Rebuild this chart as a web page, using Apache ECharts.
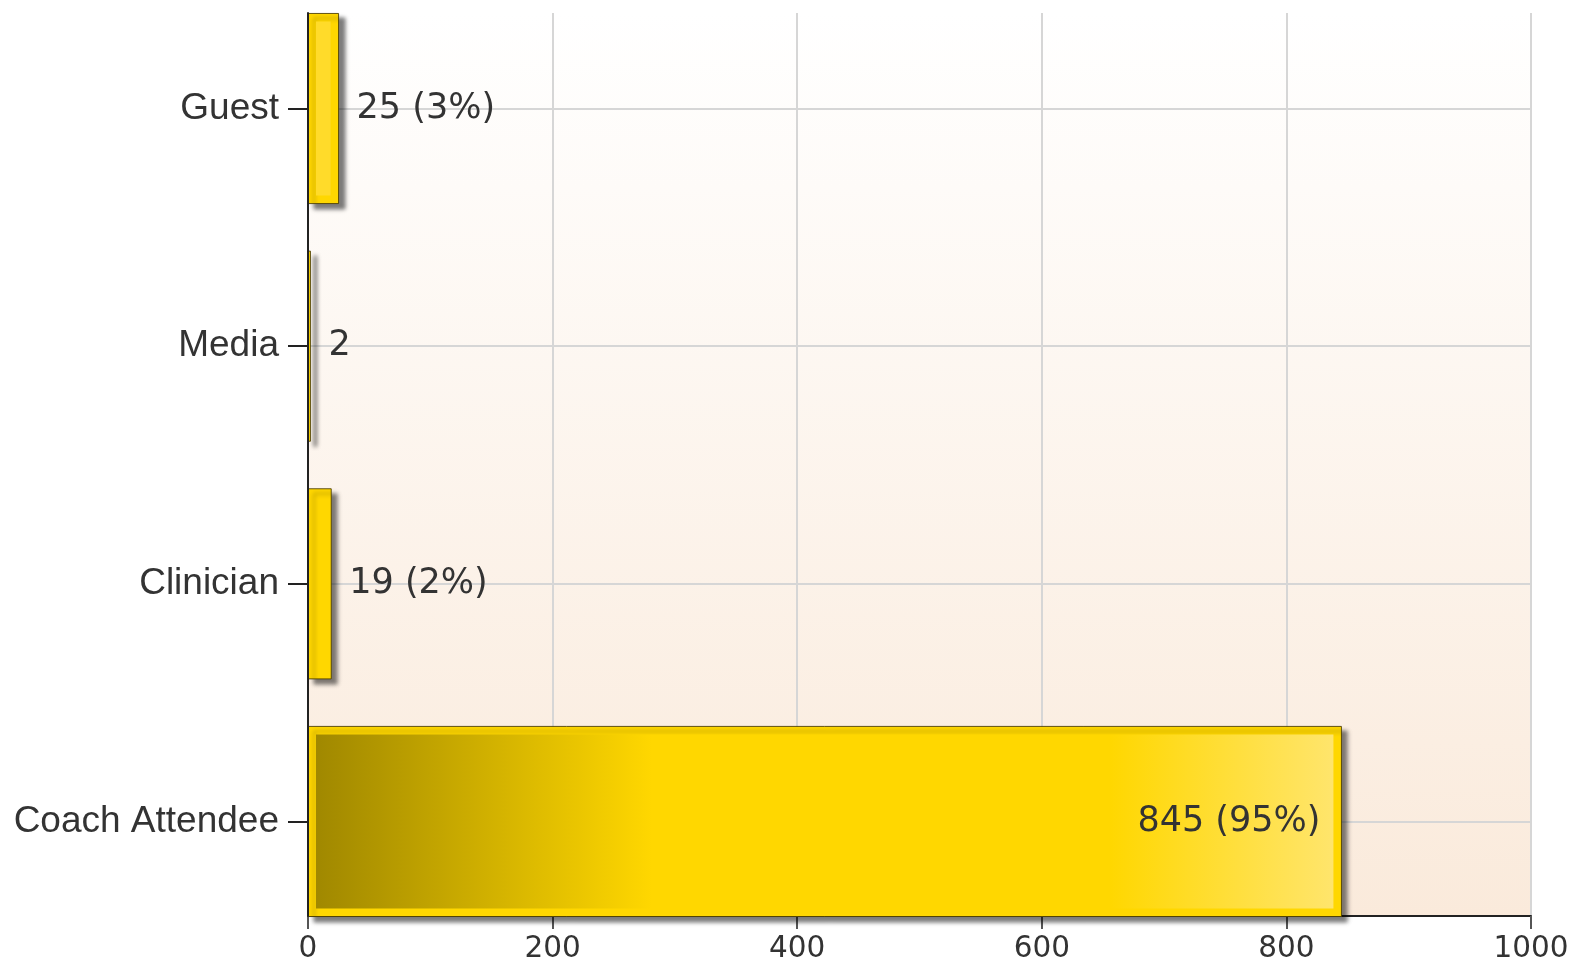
<!DOCTYPE html>
<html><head><meta charset="utf-8">
<script src="https://cdn.jsdelivr.net/npm/echarts@6/dist/echarts.min.js"></script>
<style>html,body{margin:0;padding:0;background:#fff}#c{width:1573px;height:966px}</style>
</head><body><div id="c"></div>
<script>
// Data (bottom to top on the category axis)
const categories = ['Coach Attendee', 'Clinician', 'Media', 'Guest'];
const values = [845, 19, 2, 25];
const percentLabels = ['95%', '2%', '', '3%'];
const xMin = 0, xMax = 1000, xInterval = 200;

const FONT = '"Liberation Sans", Arial, Helvetica, sans-serif';
const FONT2 = '"DejaVu Sans", Verdana, sans-serif';
const chart = echarts.init(document.getElementById('c'), null, {renderer: 'canvas'});

function labelText(i) {
  return values[i] + (percentLabels[i] ? ' (' + percentLabels[i] + ')' : '');
}

function renderBar(params, api) {
  const val = api.value(0), idx = api.value(1);
  const p0 = api.coord([0, idx]);
  const p1 = api.coord([val, idx]);
  const band = api.size([0, 1])[1];
  const h = band * 0.8;
  const x0 = p0[0], x1 = p1[0], yc = p0[1];
  const w = x1 - x0, y0 = yc - h / 2;
  const children = [];
  children.push({
    type: 'rect',
    shape: {x: x0, y: y0, width: w, height: h},
    style: {fill: '#FFD700', stroke: 'rgba(70,58,0,0.85)', lineWidth: 1,
      shadowBlur: 4, shadowOffsetX: 6, shadowOffsetY: 5, shadowColor: 'rgba(0,0,0,0.5)'}
  });
  const inset = 8;
  if (w > 2 * inset + 10) {
    const wide = w > 200;
    children.push({
      type: 'rect',
      shape: {x: x0 + inset, y: y0 + inset, width: w - 2 * inset, height: h - 2 * inset},
      style: {fill: wide ? new echarts.graphic.LinearGradient(0, 0, 1, 0, [
        {offset: 0, color: '#a08800'},
        {offset: 0.33, color: '#ffd700'},
        {offset: 0.78, color: '#ffd700'},
        {offset: 1, color: '#ffe56c'}
      ]) : '#ffdb2a'}
    });
  }
  const inside = w > 300;
  children.push({
    type: 'text',
    style: {
      text: labelText(params.dataIndex),
      x: inside ? x1 - 21 : x1 + 18,
      y: yc,
      align: inside ? 'right' : 'left',
      verticalAlign: 'middle',
      fill: '#333',
      font: '35px ' + FONT2
    }
  });
  return {type: 'group', children};
}

const option = {
  animation: false,
  backgroundColor: '#ffffff',
  grid: [
    {left: 308, right: 42, top: 13, bottom: 50, show: true, borderWidth: 0,
      outerBoundsMode: 'none',
      backgroundColor: new echarts.graphic.LinearGradient(0, 0, 0, 1, [
        {offset: 0, color: '#ffffff'},
        {offset: 1, color: '#faeadb'}
      ])},
    {left: 308, right: 42, top: -10.3, bottom: 25.7, outerBoundsMode: 'none'}
  ],
  xAxis: [
    {type: 'value', gridIndex: 0, min: xMin, max: xMax, interval: xInterval,
      axisLine: {show: true, lineStyle: {color: '#222', width: 2}},
      axisTick: {show: true, length: 13, lineStyle: {color: '#555', width: 2}},
      axisLabel: {fontSize: 29.5, color: '#333', margin: 18, fontFamily: FONT2,
        formatter: v => String(v)},
      splitLine: {show: true, lineStyle: {color: '#d6d6d6', width: 2}}},
    {type: 'value', gridIndex: 1, min: xMin, max: xMax, show: false}
  ],
  yAxis: [
    {type: 'value', gridIndex: 0, min: 0, max: 1, z: 3,
      axisLine: {show: true, onZero: false, lineStyle: {color: '#222', width: 2}},
      axisTick: {show: false}, axisLabel: {show: false}, splitLine: {show: false}},
    {type: 'category', gridIndex: 1, data: categories, boundaryGap: true,
      axisLine: {show: false},
      axisTick: {show: true, alignWithLabel: true, length: 20, lineStyle: {color: '#222', width: 2}},
      axisLabel: {margin: 29, fontSize: 37, color: '#333', fontFamily: FONT},
      splitLine: {show: true, alignWithLabel: true, lineStyle: {color: '#d6d6d6', width: 2}}}
  ],
  series: [{
    type: 'custom',
    xAxisIndex: 1, yAxisIndex: 1,
    encode: {x: 0, y: 1},
    data: values.map((v, i) => [v, i]),
    renderItem: renderBar,
    z: 2
  }]
};
chart.setOption(option);
</script></body></html>
